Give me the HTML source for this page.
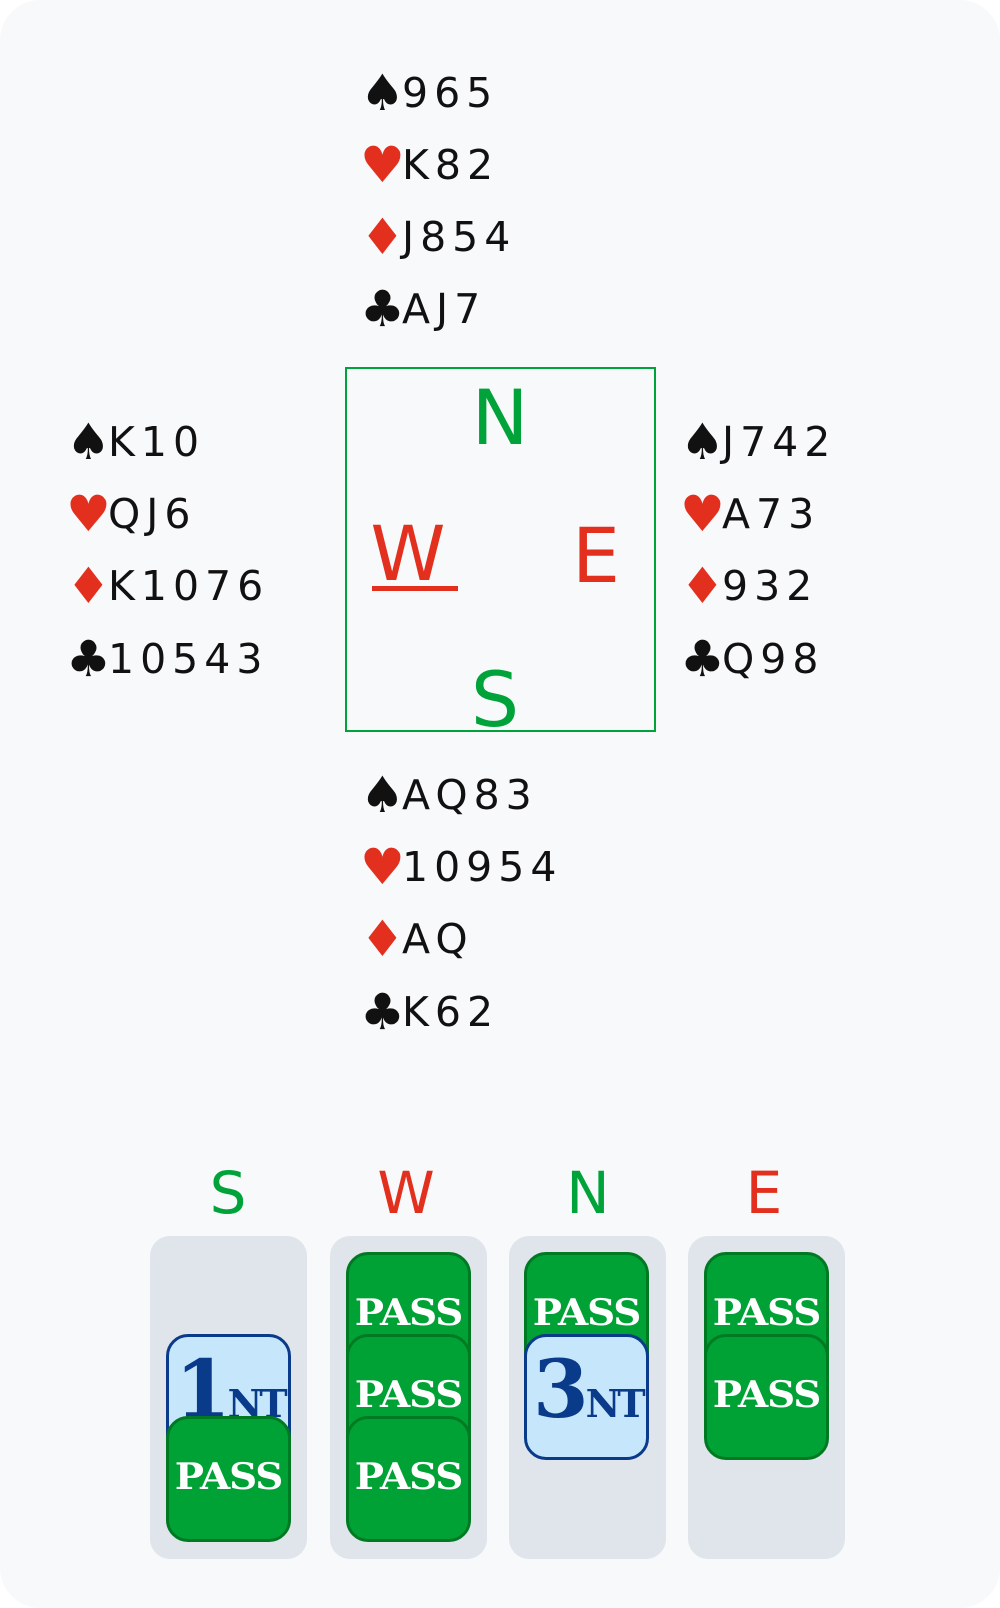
<!DOCTYPE html>
<html><head><meta charset="utf-8"><style>
html,body{margin:0;padding:0;width:1000px;height:1608px;background:#fff;overflow:hidden}
.panel{position:absolute;left:0;top:0;width:1000px;height:1608px;background:#f8f9fb;border-radius:40px}
.h{position:absolute;height:60px;line-height:60px;font-family:"DejaVu Sans","Liberation Sans",sans-serif;font-size:41px;letter-spacing:6px;color:#111;white-space:nowrap}
.h .s{display:inline-block;width:42px;letter-spacing:0;font-size:50px;vertical-align:top}
.r{color:#e3301e}
.g{color:#00a33a}
.L{position:absolute;font-family:"DejaVu Sans","Liberation Sans",sans-serif;font-weight:normal;line-height:1;text-align:center}
.box{position:absolute;left:345px;top:367px;width:307px;height:361px;border:2px solid #00a33a}
.col{position:absolute;top:1236px;width:157px;height:323px;background:#e0e5ec;border-radius:20px}
.c{position:absolute;width:119px;height:120px;border:3px solid #007a22;background:#00a236;border-radius:22px;color:#fff;font-family:"DejaVu Serif","Liberation Serif",serif;font-weight:bold;font-size:36px;text-align:center;box-sizing:content-box;overflow:hidden}
.c span{position:absolute;left:0;right:0;top:38px;line-height:40px;letter-spacing:-1px;transform:scaleX(1.08)}
.nt{background:#c5e6fb;border-color:#0a3a8a;color:#0a3a8a}
.nt span{top:12px;line-height:80px;text-align:left;padding-left:6px;letter-spacing:-3px;transform:none}
.nt b{font-size:80px}.nt i{font-style:normal;font-size:38px}
</style></head><body>
<div class="panel"></div>

<div class="h" style="left:360px;top:63px"><span class="s">♠</span>965</div>
<div class="h" style="left:360px;top:135px"><span class="s r">♥</span>K82</div>
<div class="h" style="left:360px;top:207px"><span class="s r">♦</span>J854</div>
<div class="h" style="left:360px;top:279px"><span class="s">♣</span>AJ7</div>

<div class="h" style="left:66px;top:412px"><span class="s">♠</span>K10</div>
<div class="h" style="left:66px;top:484px"><span class="s r">♥</span>QJ6</div>
<div class="h" style="left:66px;top:556px"><span class="s r">♦</span>K1076</div>
<div class="h" style="left:66px;top:629px"><span class="s">♣</span>10543</div>

<div class="h" style="left:680px;top:412px"><span class="s">♠</span>J742</div>
<div class="h" style="left:680px;top:484px"><span class="s r">♥</span>A73</div>
<div class="h" style="left:680px;top:556px"><span class="s r">♦</span>932</div>
<div class="h" style="left:680px;top:629px"><span class="s">♣</span>Q98</div>

<div class="h" style="left:360px;top:765px"><span class="s">♠</span>AQ83</div>
<div class="h" style="left:360px;top:837px"><span class="s r">♥</span>10954</div>
<div class="h" style="left:360px;top:909px"><span class="s r">♦</span>AQ</div>
<div class="h" style="left:360px;top:982px"><span class="s">♣</span>K62</div>

<div class="box"></div>
<div class="L g" style="left:450px;top:380px;width:100px;font-size:76px">N</div>
<div class="L r" style="left:358px;top:516px;width:100px;font-size:76px">W</div>
<div style="position:absolute;left:372px;top:586px;width:86px;height:5px;background:#e3301e"></div>
<div class="L r" style="left:546px;top:518px;width:100px;font-size:76px">E</div>
<div class="L g" style="left:445px;top:662px;width:100px;font-size:76px">S</div>

<div class="L g" style="left:178px;top:1164px;width:100px;font-size:58px">S</div>
<div class="L r" style="left:356px;top:1164px;width:100px;font-size:58px">W</div>
<div class="L g" style="left:538px;top:1164px;width:100px;font-size:58px">N</div>
<div class="L r" style="left:714px;top:1164px;width:100px;font-size:58px">E</div>

<div class="col" style="left:150px"></div>
<div class="col" style="left:330px"></div>
<div class="col" style="left:509px"></div>
<div class="col" style="left:688px"></div>

<div class="c nt" style="left:166px;top:1334px"><span><b>1</b><i>NT</i></span></div>
<div class="c" style="left:166px;top:1416px"><span>PASS</span></div>

<div class="c" style="left:346px;top:1252px"><span>PASS</span></div>
<div class="c" style="left:346px;top:1334px"><span>PASS</span></div>
<div class="c" style="left:346px;top:1416px"><span>PASS</span></div>

<div class="c" style="left:524px;top:1252px"><span>PASS</span></div>
<div class="c nt" style="left:524px;top:1334px"><span><b>3</b><i>NT</i></span></div>

<div class="c" style="left:704px;top:1252px"><span>PASS</span></div>
<div class="c" style="left:704px;top:1334px"><span>PASS</span></div>
</body></html>
